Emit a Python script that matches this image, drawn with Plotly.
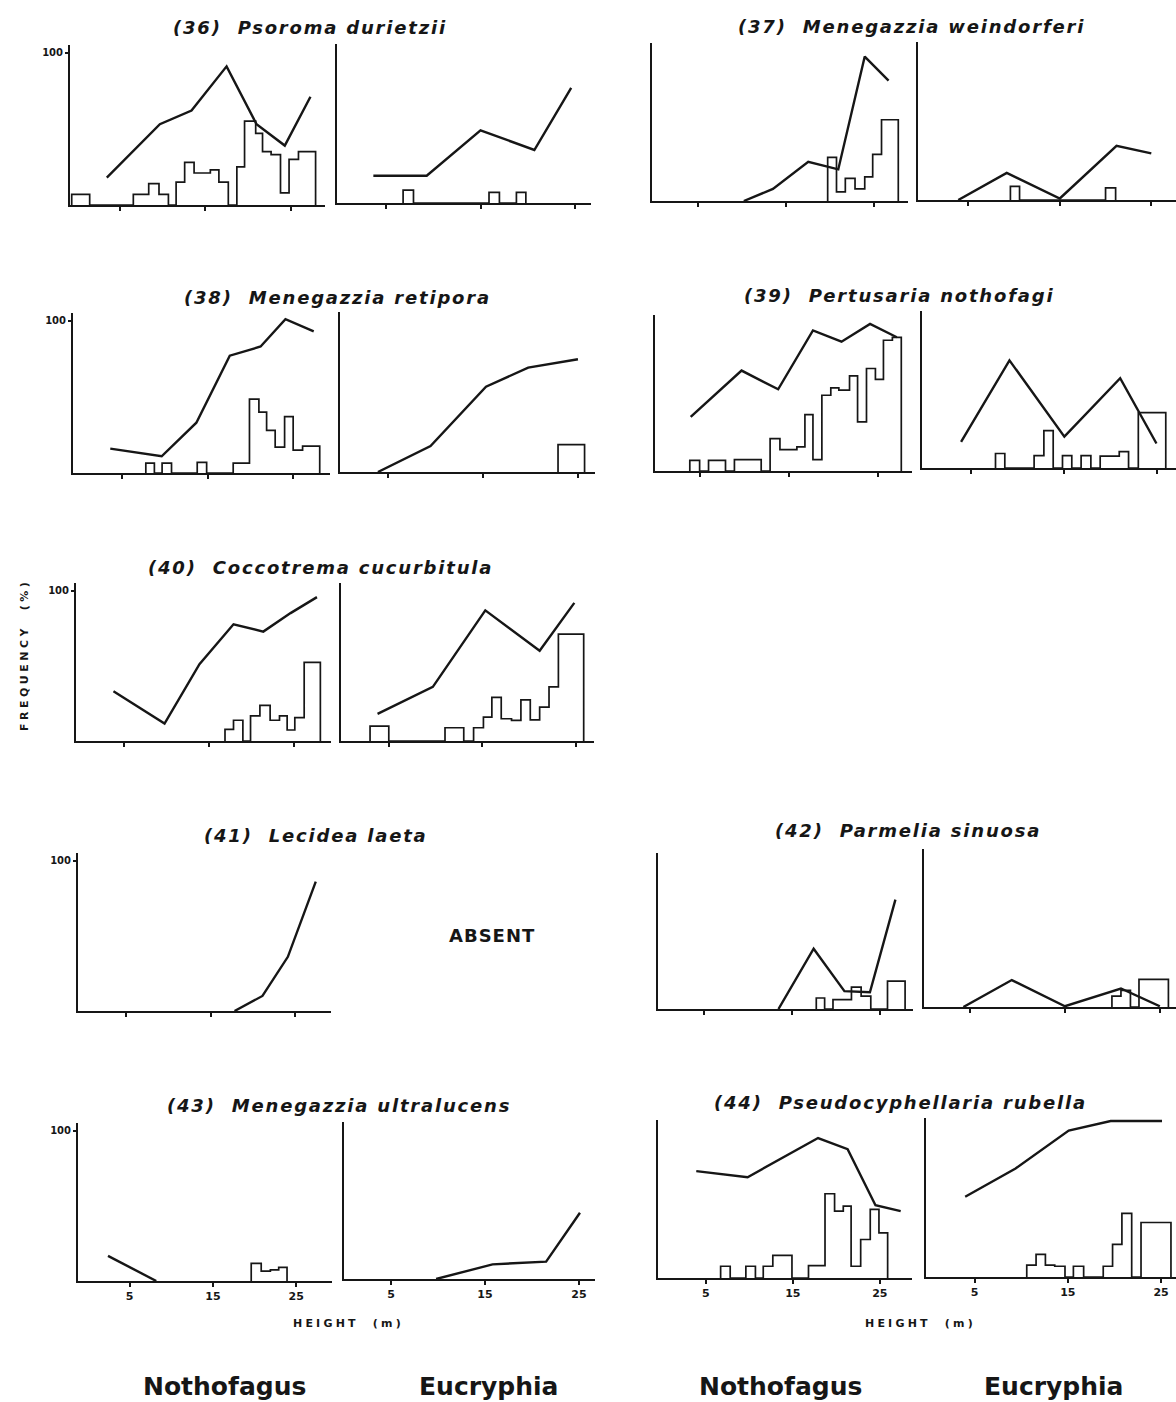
import plotly.graph_objects as go

W, H = 1176, 1402
INK = "#161616"

# ---------------- data: frequency lines (height m, frequency %) and histograms ----------------
# (36) Psoroma durietzii
psoroma_noth_h = [3.5, 9.7, 13.4, 17.5, 21.0, 24.3, 27.3]
psoroma_noth_f = [18, 53, 62, 91, 53, 39, 71]
psoroma_noth_edges = [-0.6, 1.5, 6.6, 8.4, 9.6, 10.7, 11.6, 12.6, 13.7, 15.6, 16.6, 17.7,
                      18.7, 19.6, 20.9, 21.7, 22.7, 23.8, 24.8, 25.9, 27.9]
psoroma_noth_vals = [7, 0, 7, 14, 7, 0, 15, 28, 21, 23, 15, 0, 25, 55, 47, 35, 33, 8, 30, 35]
psoroma_euc_h = [3.65, 9.3, 15.0, 20.7, 24.6]
psoroma_euc_f = [18, 18, 48, 35, 76]
psoroma_euc_edges = [6.8, 7.9, 15.9, 17.0, 18.8, 19.8]
psoroma_euc_vals = [8.5, 0, 7, 0, 7]

# (37) Menegazzia weindorferi
weindorferi_noth_h = [10.2, 13.5, 17.5, 20.9, 23.9, 26.6]
weindorferi_noth_f = [0, 8, 26, 21, 96, 80]
weindorferi_noth_edges = [19.7, 20.7, 21.7, 22.8, 23.9, 24.8, 25.8, 27.7]
weindorferi_noth_vals = [29, 6, 15, 8, 16, 31, 54]
weindorferi_euc_h = [3.9, 9.2, 15.0, 21.2, 25.0]
weindorferi_euc_f = [0, 18, 1, 36, 31]
weindorferi_euc_edges = [9.6, 10.6, 20.0, 21.1]
weindorferi_euc_vals = [9, 0, 8]

# (38) Menegazzia retipora
retipora_noth_h = [3.65, 9.65, 13.7, 17.6, 21.2, 24.1, 27.4]
retipora_noth_f = [16, 11, 33, 77, 83, 101, 93]
retipora_noth_edges = [7.8, 8.8, 9.7, 10.8, 13.8, 14.9, 18.0, 19.9, 21.0, 21.9, 22.9, 24.0,
                       25.0, 26.1, 28.1]
retipora_noth_vals = [6.5, 0, 6.5, 0, 7, 0, 6.5, 48.5, 40, 28, 17, 37, 15, 17.6]
retipora_euc_h = [3.9, 9.45, 15.3, 19.75, 25.0]
retipora_euc_f = [0, 17, 56, 68.5, 74]
retipora_euc_edges = [22.9, 25.7]
retipora_euc_vals = [18]

# (39) Pertusaria nothofagi
pertusaria_noth_h = [4.0, 9.7, 13.8, 17.7, 20.9, 24.1, 27.1]
pertusaria_noth_f = [36.5, 67.6, 55, 94.6, 87, 99, 90]
pertusaria_noth_edges = [3.9, 5.0, 6.0, 7.9, 8.9, 11.9, 12.9, 14.0, 15.9, 16.8, 17.7, 18.7,
                         19.7, 20.6, 21.8, 22.7, 23.7, 24.7, 25.6, 26.6, 27.6]
pertusaria_noth_vals = [7.2, 0, 7.2, 0, 7.7, 0, 21.8, 14.4, 16.2, 38, 7.7, 51, 56, 54.5,
                        64, 33, 69, 61.7, 88, 90]
pertusaria_euc_h = [3.9, 9.1, 15.0, 21.0, 24.9]
pertusaria_euc_f = [17.5, 72, 21, 60, 16.4]
pertusaria_euc_edges = [7.6, 8.6, 11.75, 12.8, 13.8, 14.8, 15.8, 16.8, 17.85, 18.85, 20.9,
                        21.9, 22.95, 25.9]
pertusaria_euc_vals = [9.7, 0, 8.3, 25, 0, 8.3, 0, 8.3, 0, 7.9, 11, 0, 37]

# (40) Coccotrema cucurbitula
coccotrema_noth_h = [3.8, 9.8, 13.9, 17.9, 21.4, 24.6, 27.7]
coccotrema_noth_f = [33, 11.6, 51, 77.6, 72.7, 85, 95.6]
coccotrema_noth_edges = [16.9, 17.9, 19.0, 19.9, 21.0, 22.2, 23.3, 24.2, 25.1, 26.2, 28.1]
coccotrema_noth_vals = [7.7, 13.8, 0, 16.7, 23.7, 13.8, 16.7, 7.3, 15.6, 52.3]
coccotrema_euc_h = [3.8, 9.7, 15.3, 21.1, 24.8]
coccotrema_euc_f = [18, 36, 86.8, 60, 91.8]
coccotrema_euc_edges = [3.0, 5.0, 11.0, 13.0, 14.05, 15.1, 16.0, 17.0, 18.1, 19.1, 20.1,
                        21.1, 22.1, 23.1, 25.8]
coccotrema_euc_vals = [9.9, 0, 8.8, 0, 8.8, 15.9, 29, 14.8, 13.7, 27.3, 14.1, 22.5, 36, 71]

# (41) Lecidea laeta (absent from Eucryphia)
lecidea_noth_h = [17.8, 21.1, 24.1, 27.4]
lecidea_noth_f = [0, 10, 36, 86]

# (42) Parmelia sinuosa
parmelia_noth_h = [13.5, 17.5, 21.0, 23.9, 26.8]
parmelia_noth_f = [0, 40.6, 12, 11.3, 73.6]
parmelia_noth_edges = [17.8, 18.75, 19.7, 21.8, 22.9, 24.0, 25.9, 27.9]
parmelia_noth_vals = [7.4, 0, 6.3, 14.7, 8.6, 0, 18.7]
parmelia_euc_h = [4.3, 9.4, 15.0, 20.9, 25.0]
parmelia_euc_f = [0, 17.9, 0.5, 12.3, 0.5]
parmelia_euc_edges = [19.95, 20.9, 21.9, 22.8, 25.9]
parmelia_euc_vals = [7.2, 11, 0, 18.3]

# (43) Menegazzia ultralucens
ultralucens_noth_h = [2.4, 8.2]
ultralucens_noth_f = [16.7, 0]
ultralucens_noth_edges = [19.6, 20.8, 21.9, 22.9, 23.9]
ultralucens_noth_vals = [11.7, 6.5, 7.4, 9.1]
ultralucens_euc_h = [9.8, 15.8, 21.5, 25.1]
ultralucens_euc_f = [0, 9.8, 11.6, 44.3]

# (44) Pseudocyphellaria rubella
rubella_noth_h = [3.9, 9.8, 17.9, 21.3, 24.5, 27.4]
rubella_noth_f = [71, 67, 93, 85.6, 48.4, 44.4]
rubella_noth_edges = [6.7, 7.8, 9.6, 10.7, 11.6, 12.7, 14.9, 16.8, 18.7, 19.8, 20.8, 21.7,
                      22.8, 23.9, 24.9, 25.9]
rubella_noth_vals = [7.8, 0, 7.8, 0, 7.8, 15.1, 0, 8.2, 56, 44.4, 47.8, 7.8, 25.6, 45.6, 30]
rubella_euc_h = [4.0, 9.4, 15.1, 19.6, 25.1]
rubella_euc_f = [53, 71.6, 96.7, 103, 103]
rubella_euc_edges = [10.6, 11.6, 12.6, 13.6, 14.7, 15.6, 16.7, 18.8, 19.8, 20.8, 21.85,
                     22.85, 26.06]
rubella_euc_vals = [7.8, 15, 7.8, 7.1, 0, 7.1, 0, 7.1, 21.6, 42, 0, 36]

species_titles = ["(36)  Psoroma durietzii", "(37)  Menegazzia weindorferi",
                  "(38)  Menegazzia retipora", "(39)  Pertusaria nothofagi",
                  "(40)  Coccotrema cucurbitula", "(41)  Lecidea laeta",
                  "(42)  Parmelia sinuosa", "(43)  Menegazzia ultralucens",
                  "(44)  Pseudocyphellaria rubella"]
height_ticks = [5, 15, 25]
forest_names = ["Nothofagus", "Eucryphia"]

# series per panel: (noth line, noth hist, euc line, euc hist); None = nothing drawn
series = [
    ((psoroma_noth_h, psoroma_noth_f), (psoroma_noth_edges, psoroma_noth_vals),
     (psoroma_euc_h, psoroma_euc_f), (psoroma_euc_edges, psoroma_euc_vals)),
    ((weindorferi_noth_h, weindorferi_noth_f), (weindorferi_noth_edges, weindorferi_noth_vals),
     (weindorferi_euc_h, weindorferi_euc_f), (weindorferi_euc_edges, weindorferi_euc_vals)),
    ((retipora_noth_h, retipora_noth_f), (retipora_noth_edges, retipora_noth_vals),
     (retipora_euc_h, retipora_euc_f), (retipora_euc_edges, retipora_euc_vals)),
    ((pertusaria_noth_h, pertusaria_noth_f), (pertusaria_noth_edges, pertusaria_noth_vals),
     (pertusaria_euc_h, pertusaria_euc_f), (pertusaria_euc_edges, pertusaria_euc_vals)),
    ((coccotrema_noth_h, coccotrema_noth_f), (coccotrema_noth_edges, coccotrema_noth_vals),
     (coccotrema_euc_h, coccotrema_euc_f), (coccotrema_euc_edges, coccotrema_euc_vals)),
    ((lecidea_noth_h, lecidea_noth_f), None, None, None),
    ((parmelia_noth_h, parmelia_noth_f), (parmelia_noth_edges, parmelia_noth_vals),
     (parmelia_euc_h, parmelia_euc_f), (parmelia_euc_edges, parmelia_euc_vals)),
    ((ultralucens_noth_h, ultralucens_noth_f), (ultralucens_noth_edges, ultralucens_noth_vals),
     (ultralucens_euc_h, ultralucens_euc_f), None),
    ((rubella_noth_h, rubella_noth_f), (rubella_noth_edges, rubella_noth_vals),
     (rubella_euc_h, rubella_euc_f), (rubella_euc_edges, rubella_euc_vals)),
]

# ---------------- page geometry (pixels) ----------------
# title centre, then for each forest: (left px, right px, top px, base px, x-range)
panel_geom = [
    dict(t=(310, 28), n=(70, 325, 45, 205, (-0.8, 29.0)), e=(337, 591, 44, 203, (-0.2, 26.7))),
    dict(t=(911, 26), n=(652, 908, 43, 201, (-0.2, 28.8)), e=(918, 1176, 42, 200, (-0.5, 27.7))),
    dict(t=(337, 298), n=(73, 330, 313, 473, (-0.7, 29.3)), e=(340, 595, 312, 472, (-0.1, 26.8))),
    dict(t=(899, 295), n=(655, 912, 315, 471, (0.0, 28.8)), e=(922, 1176, 311, 468, (-0.3, 27.0))),
    dict(t=(320, 567), n=(76, 331, 583, 741, (-0.6, 29.35)), e=(341, 594, 583, 741, (-0.1, 26.9))),
    dict(t=(316, 835), n=(78, 331, 853, 1011, (-0.7, 29.2)), e=None),
    dict(t=(908, 830), n=(658, 913, 853, 1009, (-0.2, 28.8)), e=(924, 1176, 849, 1007, (0.15, 26.7))),
    dict(t=(339, 1105), n=(78, 332, 1123, 1281, (-1.2, 29.3)), e=(344, 595, 1122, 1279, (0.0, 26.7))),
    dict(t=(900, 1102), n=(658, 912, 1120, 1278, (-0.5, 28.7)), e=(926, 1176, 1118, 1277, (-0.2, 26.6))),
]
left_column = {0, 2, 4, 5, 7}
bottom_row = {7, 8}


def fx(px):
    return px / W


def fy(py):
    return 1 - py / H


def spaced(text, px):
    return '<span style="letter-spacing:%spx">%s</span>' % (px, text.replace("  ", " \u00a0"))


fig = go.Figure()
layout = dict(
    width=W, height=H, margin=dict(l=0, r=0, t=0, b=0),
    paper_bgcolor="white", plot_bgcolor="white", showlegend=False,
    annotations=[],
)

axis_idx = 0
for p, geom in enumerate(panel_geom):
    noth_line, noth_hist, euc_line, euc_hist = series[p]
    for side, line, hist in (("n", noth_line, noth_hist), ("e", euc_line, euc_hist)):
        box = geom[side]
        if box is None:
            continue
        axis_idx += 1
        sfx = "" if axis_idx == 1 else str(axis_idx)
        x0, x1, ytop, ybase, xr = box
        show_y = side == "n" and p in left_column
        layout["xaxis" + sfx] = dict(
            domain=[fx(x0), fx(x1)], range=list(xr), anchor="y" + sfx,
            showline=True, linecolor=INK, linewidth=2, mirror=False,
            showgrid=False, zeroline=False, fixedrange=True,
            tickmode="array", tickvals=height_ticks, ticks="outside", ticklen=4,
            tickwidth=1.5, tickcolor=INK,
            showticklabels=p in bottom_row,
            tickfont=dict(family="DejaVu Sans", size=11, color=INK, weight="bold"),
        )
        layout["yaxis" + sfx] = dict(
            domain=[fy(ybase), fy(ytop)], range=[0, 105], anchor="x" + sfx,
            showline=True, linecolor=INK, linewidth=2,
            showgrid=False, zeroline=False, fixedrange=True,
            tickmode="array", tickvals=[100], ticktext=["100"],
            ticks="outside" if show_y else "", ticklen=3, tickwidth=1.5, tickcolor=INK,
            showticklabels=show_y,
            tickfont=dict(family="DejaVu Sans", size=10, color=INK, weight="bold"),
        )
        xa, ya = "x" + sfx, "y" + sfx
        if hist is not None:
            edges, vals = hist
            fig.add_trace(go.Scatter(
                x=[edges[0]] + list(edges), y=[0] + list(vals) + [0],
                mode="lines", line=dict(color=INK, width=1.7, shape="hv"),
                xaxis=xa, yaxis=ya, hoverinfo="skip"))
        if line is not None:
            hs, fs = line
            fig.add_trace(go.Scatter(
                x=hs, y=fs, mode="lines", line=dict(color=INK, width=2.4),
                xaxis=xa, yaxis=ya, hoverinfo="skip"))

    tx, ty = geom["t"]
    layout["annotations"].append(dict(
        text=spaced(species_titles[p], 1.8), x=fx(tx), y=fy(ty), xref="paper", yref="paper",
        xanchor="center", yanchor="middle", showarrow=False,
        font=dict(family="DejaVu Sans", size=18, color=INK, weight="bold", style="italic")))

ann = layout["annotations"]
ann.append(dict(text=spaced("ABSENT", 1), x=fx(492), y=fy(935), xref="paper", yref="paper",
                xanchor="center", yanchor="middle", showarrow=False,
                font=dict(family="DejaVu Sans", size=18, color=INK, weight="bold")))
ann.append(dict(text=spaced("FREQUENCY  (%)", 3.5), x=fx(24), y=fy(655), xref="paper",
                yref="paper", xanchor="center", yanchor="middle", showarrow=False,
                textangle=-90,
                font=dict(family="DejaVu Sans", size=11, color=INK, weight="bold")))
for cx in (348, 920):
    ann.append(dict(text=spaced("HEIGHT  (m)", 3.2), x=fx(cx), y=fy(1323), xref="paper",
                    yref="paper", xanchor="center", yanchor="middle", showarrow=False,
                    font=dict(family="DejaVu Sans", size=11, color=INK, weight="bold")))
for cx, name in zip((224, 488, 780, 1053), forest_names * 2):
    ann.append(dict(text=name, x=fx(cx), y=fy(1386), xref="paper", yref="paper",
                    xanchor="center", yanchor="middle", showarrow=False,
                    font=dict(family="DejaVu Sans", size=25, color=INK, weight="bold")))

fig.update_layout(**layout)
fig.write_html("out.html")
